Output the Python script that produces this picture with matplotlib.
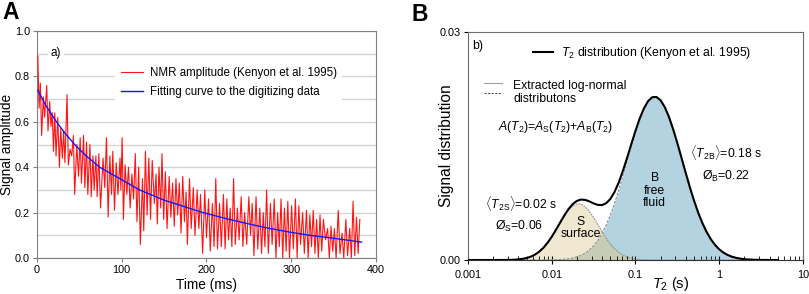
import numpy as np
import matplotlib
matplotlib.use('Agg')
import matplotlib.pyplot as plt
from matplotlib.lines import Line2D
from matplotlib.ticker import LogLocator, FuncFormatter, NullFormatter

plt.rcParams['font.family'] = ['Liberation Sans', 'DejaVu Sans']
plt.rcParams['mathtext.fontset'] = 'custom'
plt.rcParams['mathtext.rm'] = 'Liberation Sans'
plt.rcParams['mathtext.it'] = 'Liberation Sans:italic'
plt.rcParams['mathtext.bf'] = 'Liberation Sans:bold'

t_nmr = [1, 2.5, 4, 5.5, 7.5, 9, 11.5, 13, 15, 16.5, 18, 19.5, 21, 22.5, 24.5, 26.5, 28, 30, 31.5, 33,
         35.5, 37, 39, 41, 43, 44.5, 47, 49, 51, 52.5, 55, 56.5, 58.5, 60, 62.5, 64, 66, 67.5, 69.5, 71,
         73, 75, 78, 80, 82, 84, 86, 88, 89.5, 91.5, 93.5, 95.5, 98, 99, 100.5, 102, 104, 106, 108, 110,
         112, 114, 116, 118, 120, 122, 124.5, 126, 128, 130, 132, 134, 136, 138.5, 140.5, 142, 144, 146,
         147.5, 149.5, 151.5, 153.5, 156, 158, 160, 162, 164, 166, 168, 170, 172, 174, 176, 177.5, 180,
         182, 184.5, 186.5, 189, 191, 193, 195.5, 198, 200, 202.5, 204.5, 207, 209, 211, 213, 215.5,
         217.5, 220, 222, 224, 226, 228, 230, 232, 234, 236.5, 238.5, 241, 243, 245, 247.5, 250, 252,
         254, 256, 258.5, 260.5, 263, 265, 267, 269, 271, 273, 275.5, 277.5, 280, 282, 284, 286, 288,
         290, 292, 294, 296, 298, 300.5, 302.5, 305, 307, 309, 311, 313.5, 315.5, 318, 320, 322, 324,
         326, 328, 330, 332, 334, 336, 338, 340.5, 343, 345, 347, 349, 351, 353, 355.5, 357.5, 360, 362,
         364.5, 366.5, 369, 371, 373, 375, 377, 379, 381]
a_nmr = [0.89, 0.66, 0.77, 0.54, 0.71, 0.62, 0.76, 0.56, 0.69, 0.58, 0.64, 0.47, 0.64, 0.45, 0.62, 0.40,
         0.57, 0.44, 0.56, 0.42, 0.72, 0.41, 0.48, 0.45, 0.54, 0.28, 0.50, 0.36, 0.53, 0.33, 0.54, 0.31,
         0.51, 0.28, 0.50, 0.27, 0.45, 0.30, 0.45, 0.27, 0.46, 0.22, 0.44, 0.31, 0.53, 0.18, 0.45, 0.28,
         0.47, 0.21, 0.42, 0.28, 0.44, 0.30, 0.53, 0.17, 0.41, 0.28, 0.40, 0.22, 0.37, 0.26, 0.46, 0.16,
         0.40, 0.06, 0.35, 0.12, 0.47, 0.19, 0.44, 0.17, 0.43, 0.24, 0.37, 0.15, 0.40, 0.22, 0.46, 0.17,
         0.38, 0.13, 0.36, 0.18, 0.33, 0.14, 0.35, 0.19, 0.33, 0.11, 0.36, 0.16, 0.29, 0.06, 0.35, 0.13,
         0.31, 0.10, 0.30, 0.13, 0.28, 0.02, 0.30, 0.09, 0.26, 0.03, 0.24, 0.05, 0.35, 0.04, 0.24, 0.05,
         0.28, 0.04, 0.26, 0.08, 0.22, 0.05, 0.35, 0.06, 0.22, 0.08, 0.27, 0.05, 0.20, 0.06, 0.27, 0.10,
         0.24, 0.01, 0.27, 0.04, 0.22, 0.02, 0.20, 0.05, 0.30, 0.02, 0.24, 0.06, 0.26, 0.00, 0.20, 0.05,
         0.26, 0.00, 0.22, 0.03, 0.25, 0.00, 0.23, 0.04, 0.26, 0.00, 0.23, 0.06, 0.20, 0.02, 0.21, 0.00,
         0.19, 0.05, 0.21, 0.02, 0.17, 0.00, 0.19, 0.03, 0.17, 0.08, 0.13, 0.00, 0.14, 0.03, 0.13, 0.00,
         0.21, 0.02, 0.11, 0.00, 0.17, 0.01, 0.13, 0.00, 0.25, 0.01, 0.18, 0.02, 0.17]

t_fit = [1, 5, 10, 16, 23, 33, 44.5, 58, 74, 100, 121, 150, 175, 196, 225, 250, 275, 300, 322, 350, 383]
a_fit = [0.74, 0.71, 0.675, 0.64, 0.60, 0.55, 0.50, 0.45, 0.40, 0.345, 0.30, 0.255, 0.225, 0.20, 0.172,
         0.15, 0.13, 0.113, 0.10, 0.087, 0.07]

# ---- panel B: T2 distribution, log10(T2) grid ----
log_t2 = [-3.0, -2.95, -2.9, -2.85, -2.8, -2.75, -2.7, -2.65, -2.6, -2.55, -2.5, -2.45, -2.4, -2.35,
          -2.3, -2.25, -2.2, -2.15, -2.1, -2.05, -2.0, -1.95, -1.9, -1.85, -1.8, -1.75, -1.7, -1.65,
          -1.6, -1.55, -1.5, -1.45, -1.4, -1.35, -1.3, -1.25, -1.2, -1.15, -1.1, -1.05, -1.0, -0.95,
          -0.9, -0.85, -0.8, -0.75, -0.7, -0.65, -0.6, -0.55, -0.5, -0.45, -0.4, -0.35, -0.3, -0.25,
          -0.2, -0.15, -0.1, -0.05, 0.0, 0.05, 0.1, 0.15, 0.2, 0.25, 0.3, 0.35, 0.4, 0.45, 0.5, 0.55,
          0.6, 0.65, 0.7]
amp_s = [0, 0, 0, 0, 0, 0, 0.000001, 0.000002, 0.000005, 0.00001, 0.00002, 0.00004, 0.00008, 0.00015,
         0.00026, 0.00044, 0.00071, 0.00109, 0.00160, 0.00226, 0.00304, 0.00393, 0.00486, 0.00576,
         0.00653, 0.00709, 0.00737, 0.00734, 0.00700, 0.00639, 0.00559, 0.00468, 0.00375, 0.00288,
         0.00211, 0.00149, 0.00100, 0.00065, 0.00040, 0.00024, 0.00013, 0.00007, 0.00004, 0.00002,
         0.00001] + [0] * 30
amp_b = [0] * 16 + [0.000002, 0.000004, 0.000006, 0.00001, 0.00002, 0.00004, 0.00006, 0.00010,
         0.00017, 0.00026, 0.00041, 0.00061, 0.00091, 0.00132, 0.00186, 0.00257, 0.00348, 0.00459,
         0.00592, 0.00746, 0.00920, 0.01108, 0.01304, 0.01500, 0.01686, 0.01853, 0.01989, 0.02088,
         0.02141, 0.02146, 0.02102, 0.02012, 0.01883, 0.01721, 0.01538, 0.01344, 0.01147, 0.00956,
         0.00780, 0.00621, 0.00484, 0.00368, 0.00274, 0.00199, 0.00141, 0.00098, 0.00067, 0.00044,
         0.00029, 0.00018, 0.00011, 0.00007, 0.00004, 0.00002, 0.00001, 0.000006, 0.000004, 0.000002,
         0.000001]

fig = plt.figure(figsize=(8.09, 2.94), dpi=100)

# ================= A =================
ax1 = fig.add_axes([0.0457, 0.1224, 0.419, 0.772])
ax1.plot(t_nmr, a_nmr, color='#ff1414', lw=0.8, label='NMR amplitude (Kenyon et al. 1995)', zorder=3)
ax1.plot(t_fit, a_fit, color='#1414ff', lw=1.0, label='Fitting curve to the digitizing data', zorder=4)
ax1.set_xlim(0, 400)
ax1.set_ylim(0, 1.0)
ax1.set_xticks([0, 100, 200, 300, 400])
ax1.set_yticks([0.0, 0.2, 0.4, 0.6, 0.8, 1.0])
ax1.set_yticklabels(['0.0', '0.2', '0.4', '0.6', '0.8', '1.0'])
ax1.set_yticks(np.arange(0.1, 1.0, 0.2), minor=True)
ax1.grid(True, axis='y', which='both', color='#d4d4d4', lw=1.0, zorder=0)
ax1.set_axisbelow(True)
for sp in ax1.spines.values():
    sp.set_color('#808080')
ax1.tick_params(which='both', direction='out', length=3, color='#808080', labelsize=7.8, pad=2)
ax1.tick_params(which='minor', length=0)
ax1.set_xlabel('Time (ms)', fontsize=9.8)
ax1.xaxis.set_label_coords(0.5, -0.088)
ax1.set_ylabel('Signal amplitude', fontsize=9.8)
ax1.yaxis.set_label_coords(-0.068, 0.5)
leg1 = ax1.legend(loc='upper left', bbox_to_anchor=(0.23, 0.866), fontsize=8.3, frameon=True,
                  handlelength=1.9, handletextpad=0.6, labelspacing=0.62, borderpad=0.5,
                  borderaxespad=0)
leg1.get_frame().set_edgecolor('none')
leg1.get_frame().set_facecolor('white')
leg1.get_frame().set_alpha(1)
leg1.set_zorder(5)
ax1.text(0.04, 0.905, 'a)', transform=ax1.transAxes, fontsize=8.5, va='center', ha='left',
         bbox=dict(facecolor='white', edgecolor='none', pad=2), zorder=5)
fig.text(0.003, 0.995, 'A', fontsize=16.5, fontweight='bold', va='top', ha='left')

# ================= B =================
t2 = [10 ** v for v in log_t2]
total = [s + b for s, b in zip(amp_s, amp_b)]
overlap = [min(s, b) for s, b in zip(amp_s, amp_b)]

ax2 = fig.add_axes([0.5785, 0.1156, 0.414, 0.7755])
ax2.fill_between(t2, 0, amp_b, color='#b2d3df', lw=0, zorder=1)
ax2.fill_between(t2, 0, amp_s, color='#efe7d0', lw=0, zorder=1)
ax2.fill_between(t2, 0, overlap, color='#c7ccb6', lw=0, zorder=1)
ax2.plot(t2, amp_s, color='#8c8c8c', lw=0.8, ls=(0, (1.5, 1)), zorder=2)
ax2.plot(t2, amp_b, color='#8c8c8c', lw=0.8, ls=(0, (2.5, 1.2)), zorder=2)
ax2.plot(t2, total, color='black', lw=1.5, zorder=3)
ax2.set_xscale('log')
ax2.set_xlim(0.001, 10)
ax2.set_ylim(0, 0.03)
ax2.set_yticks([0.0, 0.03])
ax2.set_yticklabels(['0.00', '0.03'])
ax2.xaxis.set_major_locator(LogLocator(base=10, numticks=10))
ax2.xaxis.set_major_formatter(FuncFormatter(lambda v, p: '{:g}'.format(v)))
ax2.xaxis.set_minor_locator(LogLocator(base=10, subs=np.arange(2, 10), numticks=20))
ax2.xaxis.set_minor_formatter(NullFormatter())
for sp in ax2.spines.values():
    sp.set_color('#6e6e6e')
ax2.spines['bottom'].set_color('#333333')
ax2.tick_params(axis='x', which='major', direction='inout', length=6, labelsize=7.8, pad=4)
ax2.tick_params(axis='x', which='minor', direction='in', length=3)
ax2.tick_params(axis='y', which='major', direction='out', length=3, labelsize=7.8, pad=2)
ax2.set_ylabel('Signal distribution', fontsize=11.2)
ax2.yaxis.set_label_coords(-0.042, 0.5)
ax2.set_xlabel(r'$T_2$ (s)', fontsize=10.5)
ax2.xaxis.set_label_coords(0.606, -0.065)

TXT = 8.8
ax2.text(0.012, 0.94, 'b)', transform=ax2.transAxes, fontsize=TXT, va='center')
h_tot = Line2D([], [], color='black', lw=1.5)
ax2.legend([h_tot], [r'$T_2$ distribution (Kenyon et al. 1995)'], loc='center left',
           bbox_to_anchor=(0.178, 0.906), frameon=False, fontsize=TXT, handlelength=1.7,
           handletextpad=0.6, borderaxespad=0)
ax2.plot([0.00155, 0.00257], [0.0233, 0.0233], color='#a0a0a0', lw=0.8, zorder=4)
ax2.plot([0.00155, 0.00257], [0.0220, 0.0220], color='#555555', lw=0.8, ls=(0, (2, 1.2)), zorder=4)
ax2.text(0.00347, 0.0221, 'Extracted log-normal\ndistributons', fontsize=TXT, va='center',
         ha='left', linespacing=1.1)
ax2.text(0.011, 0.0175, r'$A(T_2)$=$A_\mathrm{S}(T_2)$+$A_\mathrm{B}(T_2)$', fontsize=TXT,
         ha='center', va='center')
ax2.text(0.45, 0.0141, r'$\langle T_\mathrm{2B}\rangle$=0.18 s', fontsize=TXT, ha='left', va='center')
ax2.text(0.62, 0.01105, r'Ø$_\mathrm{B}$=0.22', fontsize=TXT, ha='left', va='center')
ax2.text(0.0016, 0.0075, r'$\langle T_\mathrm{2S}\rangle$=0.02 s', fontsize=TXT, ha='left', va='center')
ax2.text(0.0021, 0.00447, r'Ø$_\mathrm{S}$=0.06', fontsize=TXT, ha='left', va='center')
ax2.text(0.022, 0.0042, 'S\nsurface', fontsize=TXT, ha='center', va='center', linespacing=1.05)
ax2.text(0.17, 0.0091, 'B\nfree\nfluid', fontsize=TXT, ha='center', va='center', linespacing=1.05)
fig.text(0.509, 0.99, 'B', fontsize=16.5, fontweight='bold', va='top', ha='left')

fig.savefig('out.png', dpi=100)
